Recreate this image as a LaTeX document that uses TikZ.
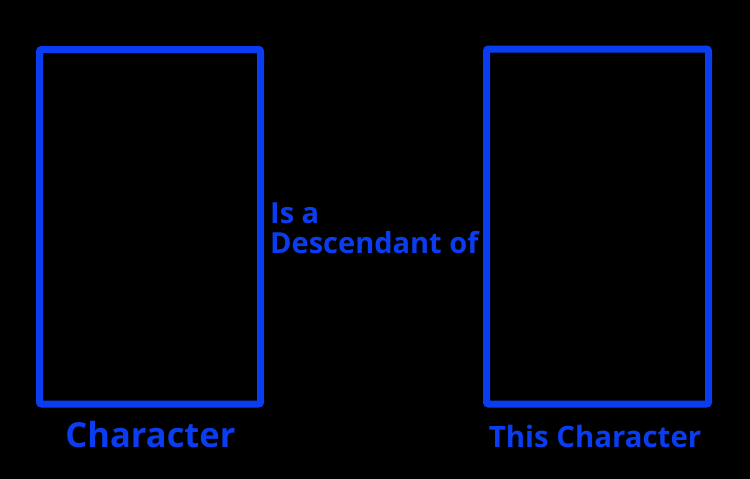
\documentclass[tikz,border=0pt]{standalone}
\usepackage{fontspec}
\setmainfont{Open Sans}
\definecolor{charblue}{RGB}{10,61,242}
\begin{document}
\begin{tikzpicture}[x=1pt,y=-1pt,font=\bfseries,
  charbox/.style={draw=charblue, line width=7pt, rounded corners=2pt, inner sep=0pt},
  charlabel/.style={text=charblue, inner sep=0pt, anchor=base}]

\fill[black] (0,0) rectangle (750,479);
\useasboundingbox (0,0) rectangle (750,479);

\node[charbox, minimum width=221pt, minimum height=354.5pt] (left) at (150,226.75) {};
\node[charbox, minimum width=222pt, minimum height=355pt] (right) at (597.5,226.5) {};

\node[charlabel, font=\fontsize{34.5}{40}\bfseries\selectfont] (leftlabel) at (150.5,447.5) {Character};
\node[charlabel, font=\fontsize{29.4}{35}\bfseries\selectfont] (rightlabel) at (595,447) {This Character};

\node[charlabel, anchor=base west, align=left, font=\fontsize{29}{30}\bfseries\selectfont] (relation) at (270,253) {Is a\\Descendant of};

\end{tikzpicture}
\end{document}
